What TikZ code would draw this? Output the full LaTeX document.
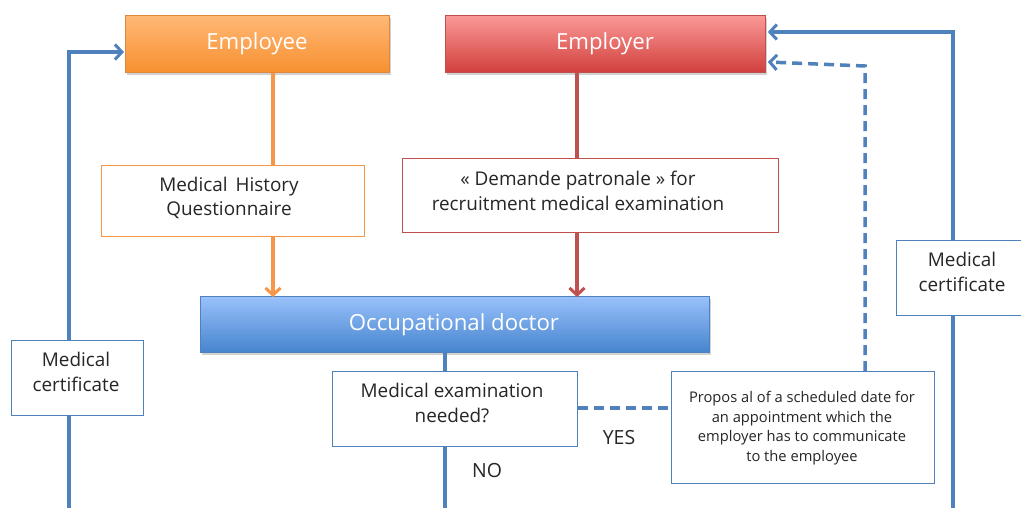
\documentclass[tikz,border=0pt]{standalone}
\usepackage{fontspec}
\setmainfont{Open Sans}
\usetikzlibrary{arrows.meta,shadows}
\definecolor{bl}{HTML}{4F81BD}
\definecolor{orl}{HTML}{F79646}
\definecolor{rdl}{HTML}{C0504D}
\definecolor{txt}{HTML}{262626}
\tikzset{
  head/.style={draw=#1, line width=0.8pt, anchor=north west,
    drop shadow={opacity=0.35, shadow xshift=1.5pt, shadow yshift=-2.5pt}},
  htxt/.style={text=white, font=\fontsize{22.2}{24}\selectfont},
  plain/.style={draw=#1, fill=white, line width=1pt, anchor=north west, inner sep=0pt},
  lbl/.style={text=txt, align=center, font=\fontsize{18.9}{24.5}\selectfont},
  small/.style={text=txt, align=center, font=\fontsize{14.7}{19.7}\selectfont},
  conn/.style={line width=3.5pt, draw=#1},
  tip/.style={-{Straight Barb[length=7pt,width=15pt,line width=3pt]}},
  dsh/.style={line width=3.5pt, draw=bl, dash pattern=on 10pt off 6pt}
}
\begin{document}
\begin{tikzpicture}[x=1pt,y=-1pt]
\clip (0,0) rectangle (1021,507);
\fill[white] (0,0) rectangle (1021,507);
% header boxes
\node[head=orl!90!black, minimum width=264pt, minimum height=57pt, top color={rgb,255:red,255;green,184;blue,118}, bottom color={rgb,255:red,247;green,144;blue,48}] (emp) at (125,15) {};
\node[htxt] (empt) at (257,44) {Employee};
\node[head=rdl, minimum width=320pt, minimum height=57pt, top color={rgb,255:red,250;green,153;blue,150}, bottom color={rgb,255:red,209;green,64;blue,61}] (er) at (445,15) {};
\node[htxt] (ert) at (605,44) {Employer};
\node[head=bl, minimum width=509pt, minimum height=56pt, top color={rgb,255:red,153;green,193;blue,250}, bottom color={rgb,255:red,70;green,132;blue,206}] (doc) at (200,296) {};
\node[htxt] (doct) at (454,325) {Occupational doctor};
% plain boxes
\node[plain=orl, minimum width=263pt, minimum height=71pt] (mhq) at (101,165) {};
\node[lbl] at (229,198) {Medical\,\ History\\Questionnaire};
\node[plain=rdl, minimum width=376pt, minimum height=74pt] (dem) at (402,158) {};
\node[lbl] at (578,191) {« Demande patronale » for\\recruitment medical examination};
\node[plain=bl, minimum width=245pt, minimum height=75pt] (mex) at (332,371) {};
\node[lbl] at (452,403) {Medical examination\\needed?};
\node[plain=bl, minimum width=263pt, minimum height=112pt] (prop) at (671,371) {};
\node[small] at (802,428) {Propos al of a scheduled date for\\an appointment which the\\employer has to communicate\\to the employee};
\node[plain=bl, minimum width=132pt, minimum height=75pt] (mcl) at (11,340) {};
\node[lbl] at (76,372) {Medical\\certificate};
\node[plain=bl, minimum width=140pt, minimum height=75pt] (mcr) at (896,240) {};
\node[lbl] at (962,272) {Medical\\certificate};
% connectors
\coordinate (lb) at (69,510);
\coordinate (rb) at (953,510);
\coordinate (nb) at (445,510);
\draw[conn=orl] (emp.south -| 273,0) -- (mhq.north -| 273,0);
\draw[conn=orl, tip] (mhq.south -| 273,0) -- ([yshift=-1pt]doc.north -| 273,0);
\draw[conn=rdl] (er.south -| 577,0) -- (dem.north -| 577,0);
\draw[conn=rdl, tip] (dem.south -| 577,0) -- ([yshift=-1pt]doc.north -| 577,0);
\draw[conn=bl] (doc.south -| 445,0) -- (mex.north -| 445,0);
\draw[conn=bl] (mex.south -| 445,0) -- (nb);
\node[text=txt, font=\fontsize{19.5}{21}\selectfont] (no) at (487,471) {NO};
\draw[dsh] (mex.east |- 0,408) -- (prop.west |- 0,408);
\node[text=txt, font=\fontsize{19.5}{21}\selectfont] (yes) at (619,438) {YES};
\draw[dsh, tip] (prop.north -| 865,0) -- (865,66) -- ([xshift=2pt]er.east |- 0,62);
\draw[conn=bl] (mcr.south -| 953,0) -- (rb);
\draw[conn=bl, tip] (mcr.north -| 953,0) -- (953,32) -- ([xshift=2pt]er.east |- 0,32);
\draw[conn=bl] (mcl.south -| 69,0) -- (lb);
\draw[conn=bl, tip] (mcl.north -| 69,0) -- (69,52) -- ([xshift=-1pt]emp.west |- 0,52);
\end{tikzpicture}
\end{document}
